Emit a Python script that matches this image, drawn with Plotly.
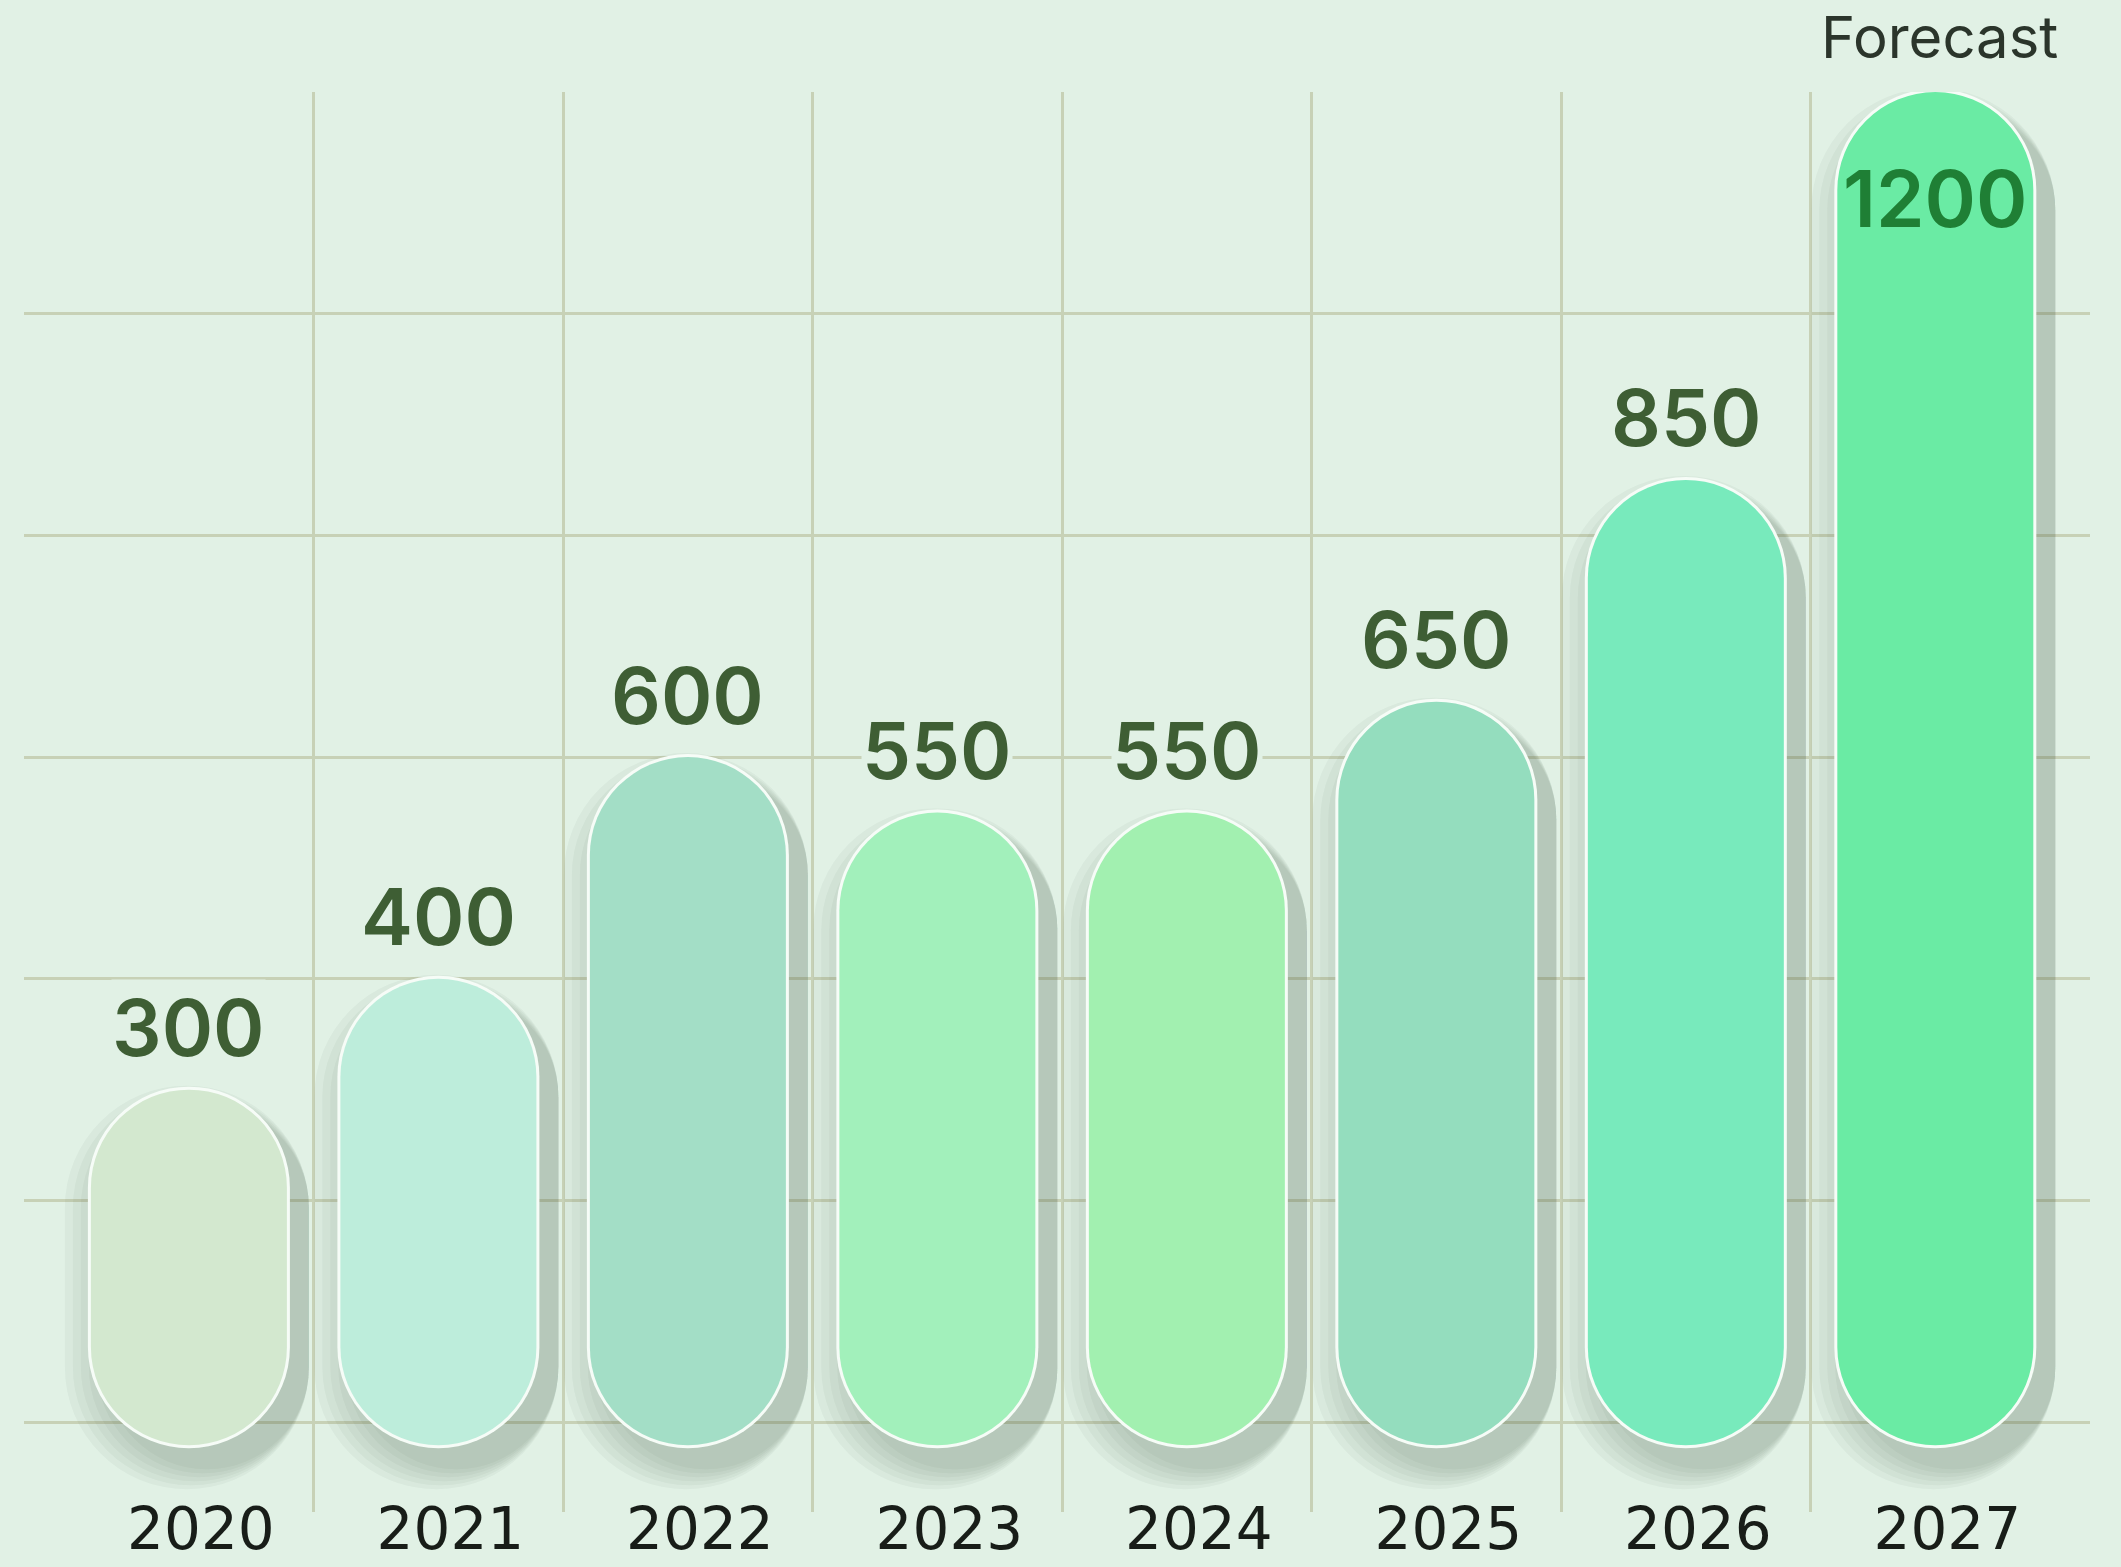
import plotly.graph_objects as go

# ---- data ----
years = ["2020", "2021", "2022", "2023", "2024", "2025", "2026", "2027"]
values = [300, 400, 600, 550, 550, 650, 850, 1200]
bar_colors = ["#d3e8cf", "#bdeddb", "#a3dec6", "#a2f0bb", "#a2f0b0", "#94ddbe", "#78eabc", "#6aeba4"]
forecast_year = "2027"
forecast_label = "Forecast"

# ---- layout geometry ----
W, H = 2121, 1567
M = dict(l=24, r=31, t=92, b=55)
Y_MIN, Y_MAX = -81, 1200
X_MIN, X_MAX = -0.661, 7.62
BG = "#e1f1e5"
GRID = "#c7d1b6"
BOTTOM_PAD_PX = 23

x_idx = list(range(len(years)))
plot_h = H - M["t"] - M["b"]
plot_w = W - M["l"] - M["r"]
ppu_y = plot_h / (Y_MAX - Y_MIN)
ppu_x = plot_w / (X_MAX - X_MIN)
BAR_W = 196 / ppu_x

fig = go.Figure()


def pill(vals, colors, width, dx_px=0.0, pad_px=0.0, dy_px=0.0, opacity=1.0):
    pad = pad_px / ppu_y
    dy = dy_px / ppu_y
    lo = [-BOTTOM_PAD_PX / ppu_y - pad - dy for v in vals]
    hi = [v + pad - dy for v in vals]
    offset = -width / 2 + dx_px / ppu_x
    fig.add_trace(go.Bar(x=x_idx, y=[h - l for h, l in zip(hi, lo)], base=lo, width=width, offset=offset,
                         opacity=opacity, hoverinfo="skip", showlegend=False, cliponaxis=False,
                         marker=dict(color=colors, cornerradius="50%", line_width=0)))


# soft shadow layers (right / below)
for k in range(1, 7):
    spread = k * 4
    pill(values, "#3f5a4c", BAR_W + (2 * spread) / ppu_x, dx_px=22 - spread, pad_px=spread,
         dy_px=20, opacity=0.05)
# white outline
pill(values, "#f6fcf7", BAR_W + 6 / ppu_x, pad_px=3)
# fill
pill(values, bar_colors, BAR_W)

# value labels
for i, (yr, v) in enumerate(zip(years, values)):
    if yr == forecast_year:
        fig.add_annotation(x=i, y=v, yshift=-106, text=str(v), showarrow=False, yanchor="middle",
                           font=dict(family="Inter", size=78, weight=600, color="#1f7f35"))
        fig.add_annotation(x=i, y=v, yshift=55, xshift=4, text=forecast_label, showarrow=False,
                           yanchor="middle",
                           font=dict(family="Inter", size=58, weight=400, color="#2b352b"))
    else:
        fig.add_annotation(x=i, y=v, yshift=62, text=str(v), showarrow=False, yanchor="middle",
                           bgcolor=BG, borderpad=0,
                           font=dict(family="Inter", size=78, weight=600, color="#3e5e34"))

fig.update_layout(
    width=W, height=H,
    margin=M,
    barmode="overlay",
    paper_bgcolor=BG,
    plot_bgcolor=BG,
    showlegend=False,
    xaxis=dict(
        range=[X_MIN, X_MAX], tickvals=x_idx, ticktext=years,
        showgrid=False, zeroline=False, showline=False, ticks="",
        tickfont=dict(family="DejaVu Sans", size=58, color="#181d18"),
        ticklabelshift=12, ticklabelstandoff=-22,
        minor=dict(tickvals=[i + 0.5 for i in x_idx[:-1]], showgrid=True, gridcolor=GRID, gridwidth=2.5),
        automargin=False, fixedrange=True,
    ),
    yaxis=dict(
        range=[Y_MIN, Y_MAX], dtick=200, tick0=0,
        showticklabels=False, showgrid=True, gridcolor=GRID, gridwidth=2.5,
        zeroline=False, showline=False, ticks="", automargin=False, fixedrange=True,
    ),
)

fig.write_html("out.html", config={"displayModeBar": False},
               post_script="document.body.style.margin='0';document.body.style.overflow='hidden';")
